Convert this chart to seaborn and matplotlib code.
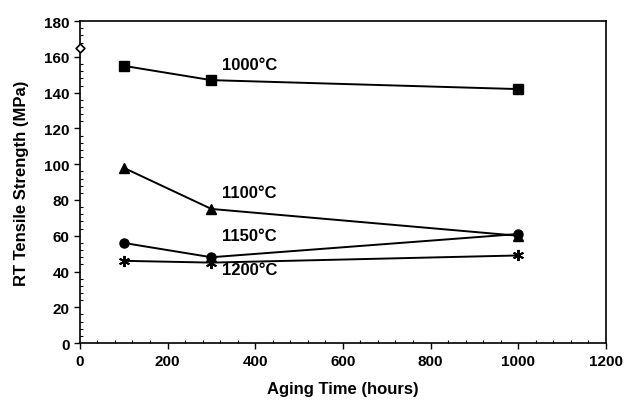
import matplotlib
matplotlib.use("Agg")
import matplotlib.pyplot as plt
import seaborn as sns
import pandas as pd
from matplotlib.ticker import MultipleLocator

hours = [100, 300, 1000]
s1000 = [155, 147, 142]
s1100 = [98, 75, 60]
s1150 = [56, 48, 61]
s1200 = [46, 45, 49]
unaged_x = [0]
unaged_y = [165]
labels = ["1000°C", "1100°C", "1150°C", "1200°C"]
markers = ["s", "^", "o", (6, 2, 0)]

sns.set_theme(style="ticks")
plt.rcParams['font.family'] = ['Liberation Sans', 'DejaVu Sans']
plt.rcParams.update({"text.color": "black", "axes.labelcolor": "black",
                     "xtick.color": "black", "ytick.color": "black"})

fig = plt.figure(figsize=(6.24, 4.02), dpi=100)
ax = fig.add_axes([0.128, 0.144, 0.843, 0.801])

series = [s1000, s1100, s1150, s1200]
for lab, vals, m in zip(labels, series, markers):
    df = pd.DataFrame({"h": hours, "v": vals})
    sns.lineplot(data=df, x="h", y="v", ax=ax, color="black", lw=1.4,
                 marker=m, markersize=6.5 if m != (6, 2, 0) else 8,
                 markeredgecolor="black", markerfacecolor="black",
                 markeredgewidth=1.4 if m == (6, 2, 0) else 1)

sns.scatterplot(x=unaged_x, y=unaged_y, ax=ax, marker="D", s=20,
                facecolor="white", edgecolor="black", linewidth=1.2, clip_on=False, zorder=5)

label_pos = [(324, 156), (324, 84), (324, 60), (324, 41)]
for lab, (x, y) in zip(labels, label_pos):
    ax.text(x, y, lab, fontsize=12, fontweight="bold", va="center", ha="left")

ax.set_xlim(0, 1200)
ax.set_ylim(0, 180)
ax.xaxis.set_major_locator(MultipleLocator(200))
ax.yaxis.set_major_locator(MultipleLocator(20))
ax.xaxis.set_minor_locator(MultipleLocator(40))
ax.yaxis.set_minor_locator(MultipleLocator(4))
ax.tick_params(which="major", direction="out", length=4, width=1, labelsize=11)
ax.tick_params(which="minor", direction="in", length=2.5, width=0.8)
for t in ax.get_xticklabels() + ax.get_yticklabels():
    t.set_fontweight("bold")
for sp in ax.spines.values():
    sp.set_color("black")
    sp.set_linewidth(1.2)
ax.set_xlabel("Aging Time (hours)", fontsize=12, fontweight="bold", labelpad=10)
ax.set_ylabel("RT Tensile Strength (MPa)", fontsize=12, fontweight="bold", labelpad=11)

fig.savefig("out.png", dpi=100)
